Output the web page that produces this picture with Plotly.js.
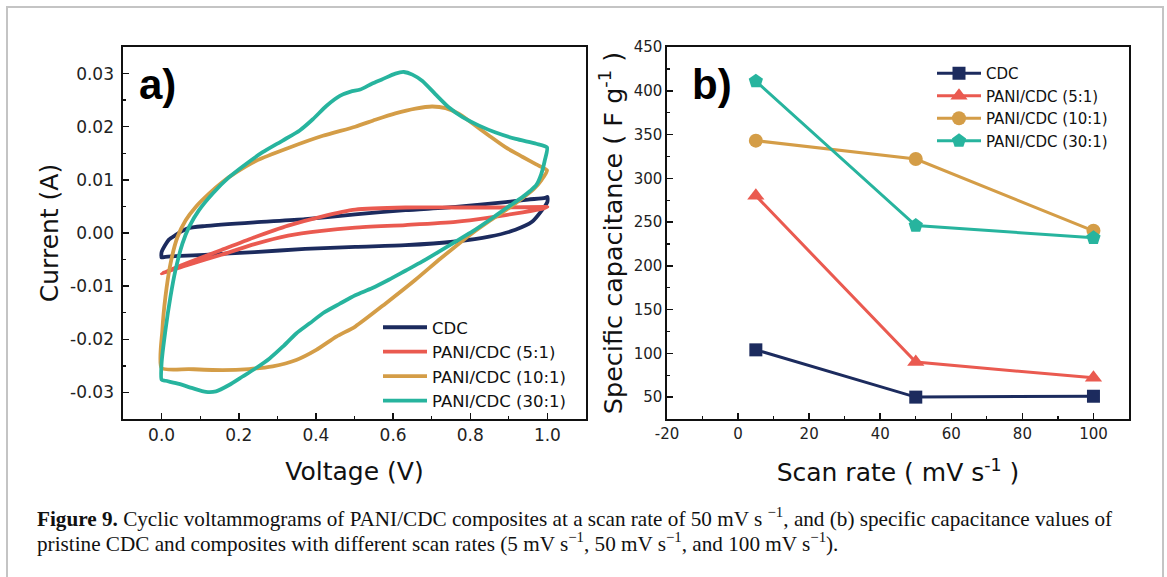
<!DOCTYPE html>
<html>
<head>
<meta charset="utf-8">
<script src="https://cdn.plot.ly/plotly-3.0.1.min.js"></script>
<style>
html,body{margin:0;padding:0;background:#fff;}
#chart{width:1167px;height:577px;}
</style>
</head>
<body>
<div id="chart"></div>
<script>
// ---------- Panel (a): cyclic voltammograms at 50 mV/s ----------
const seriesNames = ["CDC", "PANI/CDC (5:1)", "PANI/CDC (10:1)", "PANI/CDC (30:1)"];

const cdcV = [0, 0.0, 0.009, 0.019, 0.036, 0.049, 0.068, 0.111, 0.241, 0.372, 0.502, 0.632, 0.762, 0.892, 0.95, 0.994, 1.0,
  1.0, 0.986, 0.96, 0.917, 0.849, 0.762, 0.632, 0.502, 0.372, 0.241, 0.111, 0.05, 0.01, 0];
const cdcI = [-0.0046, -0.0036, -0.0023, -0.00125, -0.0004, 0.0002, 0.0009, 0.0013, 0.0020, 0.0026, 0.0035, 0.0043, 0.0049, 0.0058, 0.0063, 0.0066, 0.0068,
  0.0059, 0.0043, 0.0021, 0.0006, -0.0007, -0.0016, -0.0023, -0.0026, -0.0030, -0.0036, -0.0041, -0.0043, -0.0045, -0.0046];

const p5V = [0, 0.068, 0.155, 0.241, 0.328, 0.415, 0.502, 0.632, 0.762, 0.892, 0.994, 1.0,
  0.988, 0.936, 0.849, 0.762, 0.632, 0.502, 0.415, 0.328, 0.241, 0.155, 0.068, 0];
const p5I = [-0.0076, -0.0056, -0.0032, -0.0008, 0.0014, 0.0031, 0.0044, 0.0048, 0.0048, 0.0048, 0.0049, 0.0049,
  0.0046, 0.0039, 0.0029, 0.0021, 0.0015, 0.0010, 0.0004, -0.0005, -0.0021, -0.0041, -0.0060, -0.0076];

const p10V = [0, 0.002, 0.010, 0.023, 0.041, 0.0625, 0.0885, 0.123, 0.158, 0.193, 0.245, 0.332, 0.418, 0.502, 0.554, 0.606, 0.658, 0.701, 0.736, 0.771, 0.806, 0.849, 0.892, 0.936, 0.971, 0.999,
  0.985, 0.965, 0.936, 0.892, 0.849, 0.806, 0.788, 0.723, 0.658, 0.580, 0.502, 0.453, 0.401, 0.349, 0.288, 0.227, 0.158, 0.071, 0];
const p10I = [-0.0254, -0.0183, -0.0120, -0.0058, -0.0008, 0.0024, 0.0049, 0.0074, 0.0096, 0.0114, 0.0136, 0.0161, 0.0183, 0.0200, 0.0213, 0.0225, 0.0234, 0.0238, 0.0235, 0.0224, 0.0206, 0.0183, 0.0161, 0.0143, 0.0129, 0.0118,
  0.0100, 0.0083, 0.0066, 0.0043, 0.0022, 0.0000, -0.0010, -0.0048, -0.0088, -0.0133, -0.0176, -0.0195, -0.0220, -0.0239, -0.0251, -0.0256, -0.0258, -0.0256, -0.0254];

const p30V = [0, 0.0, 0.010, 0.023, 0.036, 0.054, 0.071, 0.097, 0.132, 0.175, 0.219, 0.262, 0.314, 0.358, 0.392, 0.427, 0.462, 0.490, 0.515, 0.545, 0.571, 0.606, 0.628, 0.650, 0.676, 0.710, 0.745, 0.780, 0.823, 0.866, 0.918, 0.971, 0.999,
  0.993, 0.984, 0.971, 0.955, 0.936, 0.892, 0.849, 0.806, 0.762, 0.719, 0.675, 0.632, 0.589, 0.545, 0.502, 0.462, 0.418, 0.384, 0.349, 0.314, 0.280, 0.245, 0.210, 0.175, 0.141, 0.115, 0.080, 0.045, 0.010, 0];
const p30I = [-0.0276, -0.0245, -0.0183, -0.0120, -0.0070, -0.0020, 0.0011, 0.0043, 0.0074, 0.0105, 0.0130, 0.0152, 0.0174, 0.0193, 0.0214, 0.0239, 0.0258, 0.0266, 0.0270, 0.0281, 0.0289, 0.0300, 0.0303, 0.0298, 0.0286, 0.0261, 0.0236, 0.0218, 0.0202, 0.0189, 0.0177, 0.0168, 0.0161,
  0.0136, 0.0111, 0.0090, 0.0079, 0.0068, 0.0046, 0.0024, 0.0003, -0.0016, -0.0035, -0.0054, -0.0071, -0.0088, -0.0104, -0.0117, -0.0133, -0.0151, -0.0170, -0.0189, -0.0214, -0.0236, -0.0254, -0.0270, -0.0286, -0.0298, -0.0299, -0.0292, -0.0284, -0.0278, -0.0276];

const aXTickVals = [0, 0.2, 0.4, 0.6, 0.8, 1.0];
const aXTickText = ["0.0", "0.2", "0.4", "0.6", "0.8", "1.0"];
const aYTickVals = [-0.03, -0.02, -0.01, 0, 0.01, 0.02, 0.03];
const aYTickText = ["-0.03", "-0.02", "-0.01", "0.00", "0.01", "0.02", "0.03"];

// ---------- Panel (b): specific capacitance vs scan rate ----------
const scanRates = [5, 50, 100];
const capCDC = [104, 50, 51];
const capP5 = [280, 90, 72];
const capP10 = [343, 322, 240];
const capP30 = [411, 246, 232];

const bXTickVals = [-20, 0, 20, 40, 60, 80, 100];
const bXTickText = ["-20", "0", "20", "40", "60", "80", "100"];

const colors = ["#1c2b5e", "#ea5a50", "#d49d47", "#27b49e"];
const symbols = ["square", "triangle-up", "circle", "pentagon"];
const markerSizes = [13, 15, 14, 15];

const cvV = [cdcV, p5V, p10V, p30V];
const cvI = [cdcI, p5I, p10I, p30I];
const caps = [capCDC, capP5, capP10, capP30];

const traces = [];
for (let k = 0; k < 4; k++) {
  traces.push({
    x: cvV[k], y: cvI[k], type: "scatter", mode: "lines",
    name: seriesNames[k], xaxis: "x", yaxis: "y", legend: "legend",
    line: {color: colors[k], width: 3.8, shape: "spline", smoothing: 0.6},
    hoverinfo: "skip"
  });
}
for (let k = 0; k < 4; k++) {
  traces.push({
    x: scanRates, y: caps[k], type: "scatter", mode: "lines+markers",
    name: seriesNames[k], xaxis: "x2", yaxis: "y2", legend: "legend2",
    line: {color: colors[k], width: 3},
    marker: {color: colors[k], symbol: symbols[k], size: markerSizes[k]},
    hoverinfo: "skip"
  });
}

const W = 1167, H = 577;
const px = v => v / W;
const py = v => 1 - v / H;
const fam = "DejaVu Sans, Arial, sans-serif";
const tickFontA = {family: fam, size: 17, color: "#222"};
const tickFontB = {family: fam, size: 15, color: "#222"};

const axisCommon = {
  showline: true, linecolor: "#111", linewidth: 1.6, mirror: true,
  ticks: "inside", ticklen: 6, tickwidth: 1.5, tickcolor: "#111",
  showgrid: false, zeroline: false, automargin: false
};
const minorStyle = {ticks: "inside", ticklen: 3, tickwidth: 1.3, tickcolor: "#111"};

const layout = {
  width: W, height: H,
  margin: {l: 0, r: 0, t: 0, b: 0},
  paper_bgcolor: "#ffffff", plot_bgcolor: "#ffffff",
  showlegend: true,
  xaxis: Object.assign({}, axisCommon, {
    domain: [px(123), px(586)], range: [-0.1, 1.1], anchor: "y",
    tickvals: aXTickVals, ticktext: aXTickText,
    minor: Object.assign({tickvals: [-0.1, 0.1, 0.3, 0.5, 0.7, 0.9, 1.1]}, minorStyle),
    tickfont: tickFontA,
    title: {text: "Voltage (V)", font: {family: fam, size: 25, color: "#111"}, standoff: 18}
  }),
  yaxis: Object.assign({}, axisCommon, {
    domain: [py(419), py(47)], range: [-0.035, 0.035], anchor: "x",
    tickvals: aYTickVals, ticktext: aYTickText, ticklabelstandoff: 4,
    minor: Object.assign({tickvals: [-0.025, -0.015, -0.005, 0.005, 0.015, 0.025]}, minorStyle),
    tickfont: tickFontA,
    title: {text: "Current (A)", font: {family: fam, size: 25, color: "#111"}, standoff: 4}
  }),
  xaxis2: Object.assign({}, axisCommon, {
    domain: [px(667), px(1129)], range: [-20, 110], anchor: "y2",
    tickvals: bXTickVals, ticktext: bXTickText,
    minor: Object.assign({tickvals: [-10, 10, 30, 50, 70, 90, 110]}, minorStyle),
    tickfont: tickFontB,
    title: {text: "Scan rate ( mV s<sup>-1</sup> )", font: {family: fam, size: 25, color: "#111"}, standoff: 22}
  }),
  yaxis2: Object.assign({}, axisCommon, {
    domain: [py(419), py(47)], range: [25, 450], anchor: "x2",
    dtick: 50, tick0: 0,
    minor: Object.assign({dtick: 25}, minorStyle),
    tickfont: tickFontB,
    title: {text: "Specific capacitance ( F g<sup>-1</sup> )", font: {family: fam, size: 25.5, color: "#111"}, standoff: 4}
  }),
  legend: {
    x: px(378), y: py(310), xanchor: "left", yanchor: "top",
    bgcolor: "rgba(0,0,0,0)", borderwidth: 0, itemwidth: 44,
    font: {family: fam, size: 16.5, color: "#111"},
    tracegroupgap: 0
  },
  legend2: {
    x: px(932), y: py(57), xanchor: "left", yanchor: "top",
    bgcolor: "rgba(0,0,0,0)", borderwidth: 0, itemwidth: 44,
    font: {family: fam, size: 15, color: "#111"},
    tracegroupgap: 0
  },
  annotations: [
    {text: "<b>a)</b>", xref: "paper", yref: "paper", x: px(137), y: py(84), xanchor: "left", yanchor: "middle",
     showarrow: false, font: {family: "Liberation Sans, Arial, sans-serif", size: 42, color: "#000"}},
    {text: "<b>b)</b>", xref: "paper", yref: "paper", x: px(690), y: py(84), xanchor: "left", yanchor: "middle",
     showarrow: false, font: {family: "Liberation Sans, Arial, sans-serif", size: 42, color: "#000"}},
    {text: "<b>Figure 9.</b> Cyclic voltammograms of PANI/CDC composites at a scan rate of 50 mV s <sup>−1</sup>, and (b) specific capacitance values of",
     xref: "paper", yref: "paper", x: px(35), y: py(517), xanchor: "left", yanchor: "middle",
     showarrow: false, font: {family: "Liberation Serif, Times New Roman, serif", size: 21.2, color: "#111"}},
    {text: "pristine CDC and composites with different scan rates (5 mV s<sup>−1</sup>, 50 mV s<sup>−1</sup>, and 100 mV s<sup>−1</sup>).",
     xref: "paper", yref: "paper", x: px(35), y: py(542), xanchor: "left", yanchor: "middle",
     showarrow: false, font: {family: "Liberation Serif, Times New Roman, serif", size: 21.2, color: "#111"}}
  ],
  shapes: [
    {type: "rect", xref: "paper", yref: "paper", x0: px(7), x1: px(1163), y0: -0.05, y1: py(7),
     line: {color: "#c4c4c4", width: 2}, fillcolor: "rgba(0,0,0,0)", layer: "below"}
  ]
};

Plotly.newPlot("chart", traces, layout, {displayModeBar: false, staticPlot: true});
</script>
</body>
</html>
